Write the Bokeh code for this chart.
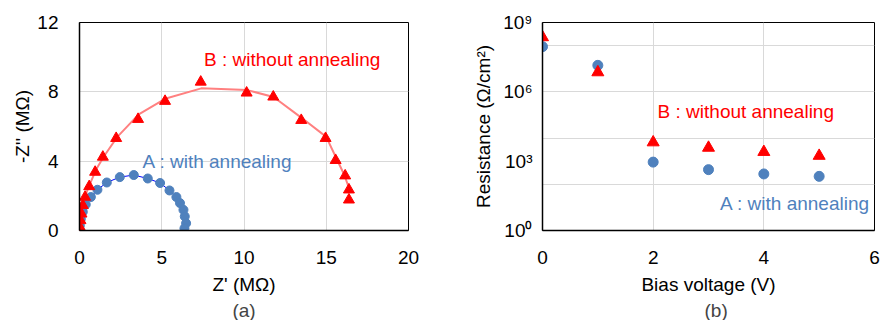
from bokeh.plotting import figure
from bokeh.layouts import row
from bokeh.models import FixedTicker, Label, Title, CustomJSTickFormatter, Range1d
from bokeh.embed import file_html
from bokeh.resources import INLINE

# ---- (a) Nyquist plot data (MOhm) ----
a_zre = [0.0, 0.02, 0.08, 0.20, 0.38, 0.69, 1.09, 1.66, 2.45, 3.30, 4.15, 4.90, 5.47, 5.89, 6.11, 6.32, 6.40, 6.48, 6.38]
a_zim = [0.04, 0.29, 0.67, 1.08, 1.50, 1.93, 2.35, 2.77, 3.08, 3.20, 3.00, 2.74, 2.31, 1.93, 1.58, 1.19, 0.81, 0.42, 0.12]

b_zre = [0.0, 0.02, 0.06, 0.12, 0.20, 0.34, 0.59, 0.95, 1.42, 2.23, 3.56, 5.20, 7.37, 10.16, 11.78, 13.48, 14.96, 15.57, 16.15, 16.38, 16.38]
b_zim = [0.0, 0.19, 0.58, 0.96, 1.45, 1.93, 2.54, 3.37, 4.24, 5.32, 6.42, 7.46, 8.57, 7.94, 7.71, 6.36, 5.32, 4.05, 3.16, 2.35, 1.77]

b_fit_zre = [0.0, 0.1, 0.3, 0.6, 1.0, 1.5, 2.3, 3.6, 5.2, 7.4, 10.2, 11.8, 13.5, 15.0, 15.6, 16.1, 16.4]
b_fit_zim = [0.0, 1.0, 1.9, 2.6, 3.5, 4.3, 5.4, 6.7, 7.6, 8.2, 8.1, 7.7, 6.5, 5.4, 4.2, 3.2, 2.4]

# ---- (b) Resistance vs bias voltage ----
bias_v = [0, 1, 2, 3, 4, 5]
res_a = [9.0e7, 1.4e7, 910, 430, 280, 220]
res_b = [2.3e8, 7.0e6, 6.5e3, 3.8e3, 2.5e3, 1.7e3]

x_ticks_a = [0, 5, 10, 15, 20]
y_ticks_a = [0, 4, 8, 12]
x_ticks_b = [0, 2, 4, 6]
y_ticks_b = [1, 1e3, 1e6, 1e9]
y_grid_b = [1e2, 1e4, 1e6, 1e8]

FONT = "Liberation Sans"
FS = "19px"
RED = "#FF0000"
BLUE = "#4F81BD"


def style(p, xstand, ystand, ylabstand):
    for ax in (p.xaxis[0], p.yaxis[0]):
        ax.major_label_text_font = FONT
        ax.major_label_text_font_size = FS
        ax.major_label_text_color = "black"
        ax.axis_label_text_font = FONT
        ax.axis_label_text_font_size = FS
        ax.axis_label_text_font_style = "normal"
        ax.axis_label_text_color = "black"
        ax.major_tick_out = 0
        ax.major_tick_in = 0
        ax.minor_tick_out = 0
        ax.minor_tick_in = 0
        ax.axis_line_color = "black"
        ax.axis_line_width = 1.5
    p.xaxis[0].major_label_standoff = xstand
    p.yaxis[0].major_label_standoff = ystand
    p.xaxis[0].axis_label_standoff = 7
    p.yaxis[0].axis_label_standoff = ylabstand
    p.grid.grid_line_color = "#D9D9D9"
    p.grid.grid_line_width = 1
    p.outline_line_color = "black"
    p.outline_line_width = 1
    p.background_fill_color = "white"
    p.border_fill_color = "white"


# ---------------- (a) ----------------
p1 = figure(width=422, height=320, x_range=Range1d(0, 20), y_range=Range1d(0, 12),
            output_backend="svg", toolbar_location=None,
            min_border_left=79, min_border_right=14, min_border_top=22, min_border_bottom=90)
style(p1, 20, 21, 1)
p1.xaxis.ticker = FixedTicker(ticks=x_ticks_a)
p1.yaxis.ticker = FixedTicker(ticks=y_ticks_a)
p1.xgrid.ticker = FixedTicker(ticks=x_ticks_a)
p1.ygrid.ticker = FixedTicker(ticks=y_ticks_a)
p1.xaxis.axis_label = "Z' (MΩ)"
p1.yaxis.axis_label = "-Z'' (MΩ)"

p1.line(b_fit_zre, b_fit_zim, line_color="#FF8080", line_width=2)
p1.line(a_zre, a_zim, line_color="#0000FF", line_width=1)
p1.scatter(a_zre, a_zim, marker="circle", size=9, fill_color=BLUE, line_color=BLUE)
p1.scatter(b_zre, b_zim, marker="triangle", size=11, fill_color=RED, line_color=RED)

p1.add_layout(Label(x=7.57, y=9.87, text="B : without annealing", text_color=RED,
                    text_font=FONT, text_font_size=FS, text_baseline="middle"))
p1.add_layout(Label(x=3.83, y=4.0, text="A : with annealing", text_color=BLUE,
                    text_font=FONT, text_font_size=FS, text_baseline="middle"))
p1.add_layout(Title(text="(a)", align="center", text_font=FONT, text_font_size=FS,
                    text_font_style="normal", standoff=0), "below")

# ---------------- (b) ----------------
p2 = figure(width=458, height=320, x_range=Range1d(0, 6), y_range=Range1d(1, 1e9),
            y_axis_type="log", output_backend="svg", toolbar_location=None,
            min_border_left=120, min_border_right=6, min_border_top=22, min_border_bottom=87)
style(p2, 20, 10, 6)
p2.xaxis.ticker = FixedTicker(ticks=x_ticks_b)
p2.yaxis.ticker = FixedTicker(ticks=y_ticks_b)
p2.xgrid.ticker = FixedTicker(ticks=x_ticks_b)
p2.ygrid.ticker = FixedTicker(ticks=y_grid_b)
p2.yaxis.formatter = CustomJSTickFormatter(code="""
const e = Math.round(Math.log10(tick));
const s = {0: '\u2070', 3: '\u00b3', 6: '\u2076', 9: '\u2079'};
return '10' + s[e];
""")
p2.xaxis.axis_label = "Bias voltage (V)"
p2.yaxis.axis_label = "Resistance (Ω/cm²)"

p2.scatter(bias_v, res_a, marker="circle", size=10, fill_color=BLUE, line_color=BLUE)
p2.scatter(bias_v, res_b, marker="triangle", size=12, fill_color=RED, line_color=RED)

p2.add_layout(Label(x=2.08, y=1.4e5, text="B : without annealing", text_color=RED,
                    text_font=FONT, text_font_size=FS, text_baseline="middle"))
p2.add_layout(Label(x=3.21, y=15, text="A : with annealing", text_color=BLUE,
                    text_font=FONT, text_font_size=FS, text_baseline="middle"))
p2.add_layout(Title(text="(b)", align="left", text_font=FONT, text_font_size=FS,
                    text_font_style="normal", standoff=0, offset=162), "below")

layout = row(p1, p2)
with open("out.html", "w", encoding="utf-8") as f:
    f.write(file_html(layout, INLINE))
